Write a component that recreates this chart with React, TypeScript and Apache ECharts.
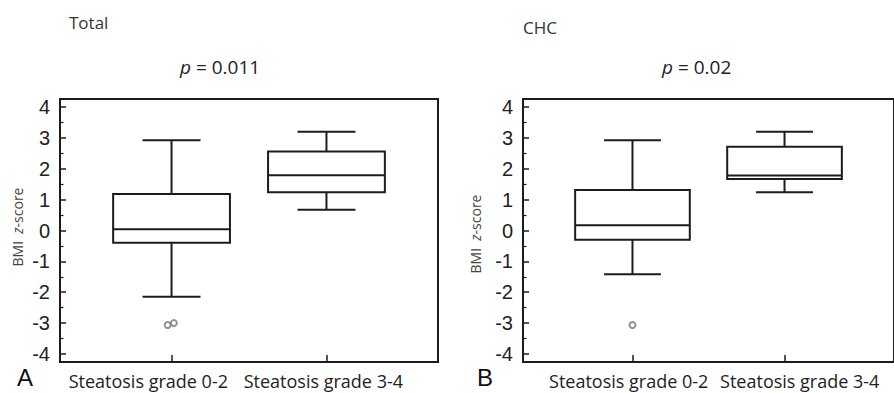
import React, { useEffect, useRef } from 'react';
import * as echarts from 'echarts';

// ---- data ----
const CATEGORIES = ['Steatosis grade 0-2', 'Steatosis grade 3-4'];
const Y_MAJOR_TICKS = [-4, -3, -2, -1, 0, 1, 2, 3, 4];
const Y_MINOR_TICKS = [-3.5, -2.5, -1.5, -0.5, 0.5, 1.5, 2.5, 3.5];
// [category position, lower whisker, Q1, median, Q3, upper whisker]
const TOTAL_BOXES = [
  [1, -2.15, -0.4, 0.04, 1.18, 2.92],
  [2, 0.67, 1.24, 1.79, 2.56, 3.2],
];
const TOTAL_OUTLIERS = [
  [0.975, -3.06],
  [1.015, -3.0],
];
const CHC_BOXES = [
  [1, -1.42, -0.3, 0.17, 1.31, 2.92],
  [2, 1.24, 1.67, 1.78, 2.71, 3.2],
];
const CHC_OUTLIERS = [[1, -3.06]];
const TOTAL_LABEL_POS = [0.85, 1.98];
const CHC_LABEL_POS = [0.975, 2.1];
const PANEL_TITLES = ['Total', 'CHC'];
const P_VALUES = ['0.011', '0.02'];
const PANEL_LETTERS = ['A', 'B'];

const INK = '#1c1c1c';
const BOX_HALF = 0.377;
const CAP_HALF = 0.187;
const Y_MIN = -4.26;
const Y_MAX = 4.26;

const renderBox = (_params: any, api: any) => {
  const x = api.value(0);
  const lo = api.value(1);
  const q1 = api.value(2);
  const med = api.value(3);
  const q3 = api.value(4);
  const hi = api.value(5);
  const c = (dx: number, v: number) => api.coord([x + dx, v]);
  const xl = c(-BOX_HALF, q3)[0];
  const xr = c(BOX_HALF, q3)[0];
  const xm = c(0, hi)[0];
  const yHi = c(0, hi)[1];
  const yQ3 = c(0, q3)[1];
  const yMed = c(0, med)[1];
  const yQ1 = c(0, q1)[1];
  const yLo = c(0, lo)[1];
  const capL = c(-CAP_HALF, hi)[0];
  const capR = c(CAP_HALF, hi)[0];
  const style = { stroke: INK, lineWidth: 2, fill: 'none' };
  return {
    type: 'group',
    children: [
      { type: 'line', shape: { x1: xm, y1: yHi, x2: xm, y2: yQ3 }, style },
      { type: 'line', shape: { x1: capL, y1: yHi, x2: capR, y2: yHi }, style },
      { type: 'line', shape: { x1: xm, y1: yQ1, x2: xm, y2: yLo }, style },
      { type: 'line', shape: { x1: capL, y1: yLo, x2: capR, y2: yLo }, style },
      {
        type: 'rect',
        shape: { x: xl, y: yQ3, width: xr - xl, height: yQ1 - yQ3 },
        style: { ...style, fill: '#fff' },
      },
      { type: 'line', shape: { x1: xl, y1: yMed, x2: xr, y2: yMed }, style },
    ],
  };
};

const makeXAxis = (gridIndex: number, labelPos: number[]) => ({
  type: 'value',
  gridIndex,
  min: 0.28,
  max: 2.72,
  splitLine: { show: false },
  axisLine: { show: true, onZero: false, lineStyle: { color: INK, width: 2 } },
  axisTick: {
    show: true,
    inside: true,
    length: 7,
    customValues: [1, 2],
    lineStyle: { color: INK, width: 1.5 },
  },
  axisLabel: {
    show: true,
    customValues: labelPos,
    margin: 9,
    lineHeight: 20,
    formatter: (v: number) => (v < 1.5 ? CATEGORIES[0] : CATEGORIES[1]),
    fontFamily: 'Open Sans',
    fontSize: 18,
    color: '#222',
  },
});

const makeYAxes = (gridIndex: number) => [
  {
    type: 'value',
    gridIndex,
    position: 'left',
    min: Y_MIN,
    max: Y_MAX,
    splitLine: { show: false },
    axisLine: { show: true, onZero: false, lineStyle: { color: INK, width: 2 } },
    axisTick: {
      show: true,
      inside: true,
      length: 6,
      customValues: Y_MAJOR_TICKS,
      lineStyle: { color: INK, width: 1.5 },
    },
    axisLabel: {
      show: true,
      customValues: Y_MAJOR_TICKS,
      margin: 10,
      fontFamily: 'Liberation Sans',
      fontSize: 20,
      color: '#222',
    },
  },
  {
    type: 'value',
    gridIndex,
    position: 'left',
    offset: 0,
    min: Y_MIN,
    max: Y_MAX,
    splitLine: { show: false },
    axisLine: { show: false, onZero: false },
    axisTick: {
      show: true,
      inside: true,
      length: 3.5,
      customValues: Y_MINOR_TICKS,
      lineStyle: { color: INK, width: 1.2 },
    },
    axisLabel: { show: false },
  },
];

const textStyle = (text: string, x: number, y: number, size: number, family: string, color = '#333') => ({
  type: 'text',
  x,
  y,
  silent: true,
  style: {
    text,
    x: 0,
    y: 0,
    fill: color,
    fontSize: size,
    fontFamily: family,
    align: 'left',
    verticalAlign: 'middle',
  },
});

const pText = (value: string, x: number, y: number) => ({
  type: 'text',
  x,
  y,
  silent: true,
  style: {
    text: `{i|p}{n| = ${value}}`,
    x: 0,
    y: 0,
    align: 'left',
    verticalAlign: 'middle',
    fill: '#222',
    fontSize: 19,
    fontFamily: 'Open Sans',
    rich: {
      i: { fontStyle: 'italic', fontSize: 19, fontFamily: 'Open Sans', fill: '#222' },
      n: { fontSize: 19, fontFamily: 'Open Sans', fill: '#222' },
    },
  },
});

const yName = (x: number, y: number) => ({
  type: 'text',
  x,
  y,
  rotation: Math.PI / 2,
  silent: true,
  style: {
    text: '{n|BMI  }{i|z}{n|-score}',
    x: 0,
    y: 0,
    align: 'center',
    verticalAlign: 'middle',
    fill: '#444',
    fontSize: 14,
    fontFamily: 'Open Sans',
    rich: {
      n: { fontSize: 14, fontFamily: 'Open Sans', fill: '#444' },
      i: { fontSize: 14, fontFamily: 'Open Sans', fontStyle: 'italic', fill: '#444' },
    },
  },
});

const option: any = {
  animation: false,
  backgroundColor: '#fff',
  grid: [
    { left: 60, top: 99, width: 378, height: 263, show: true, borderColor: INK, borderWidth: 2, backgroundColor: 'transparent' },
    { left: 523, top: 99, width: 384, height: 263, show: true, borderColor: INK, borderWidth: 2, backgroundColor: 'transparent' },
  ],
  xAxis: [makeXAxis(0, TOTAL_LABEL_POS), makeXAxis(1, CHC_LABEL_POS)],
  yAxis: [...makeYAxes(0), ...makeYAxes(1)],
  series: [
    {
      type: 'custom',
      xAxisIndex: 0,
      yAxisIndex: 0,
      renderItem: renderBox,
      encode: { x: 0, y: [1, 2, 3, 4, 5] },
      data: TOTAL_BOXES,
    },
    {
      type: 'scatter',
      xAxisIndex: 0,
      yAxisIndex: 0,
      symbol: 'emptyCircle',
      symbolSize: 6,
      itemStyle: { color: '#777', borderWidth: 1 },
      data: TOTAL_OUTLIERS,
    },
    {
      type: 'custom',
      xAxisIndex: 1,
      yAxisIndex: 2,
      renderItem: renderBox,
      encode: { x: 0, y: [1, 2, 3, 4, 5] },
      data: CHC_BOXES,
    },
    {
      type: 'scatter',
      xAxisIndex: 1,
      yAxisIndex: 2,
      symbol: 'emptyCircle',
      symbolSize: 6,
      itemStyle: { color: '#777', borderWidth: 1 },
      data: CHC_OUTLIERS,
    },
  ],
  graphic: [
    textStyle(PANEL_TITLES[0], 69, 22, 17, 'Open Sans'),
    textStyle(PANEL_TITLES[1], 523, 27, 17, 'Open Sans'),
    pText(P_VALUES[0], 180, 67),
    pText(P_VALUES[1], 662, 67),
    textStyle(PANEL_LETTERS[0], 17, 377, 24, 'Liberation Sans', '#111'),
    textStyle(PANEL_LETTERS[1], 477, 377, 24, 'Liberation Sans', '#111'),
    yName(17.5, 227),
    yName(475, 234),
  ],
};

export default function App() {
  const ref = useRef<HTMLDivElement>(null);
  useEffect(() => {
    const chart = echarts.init(ref.current!, null, { renderer: 'svg' });
    chart.setOption(option);
    return () => chart.dispose();
  }, []);
  return (
    <div
      ref={ref}
      style={{ position: 'fixed', left: 0, top: 0, width: 894, height: 393, background: '#fff' }}
    />
  );
}
